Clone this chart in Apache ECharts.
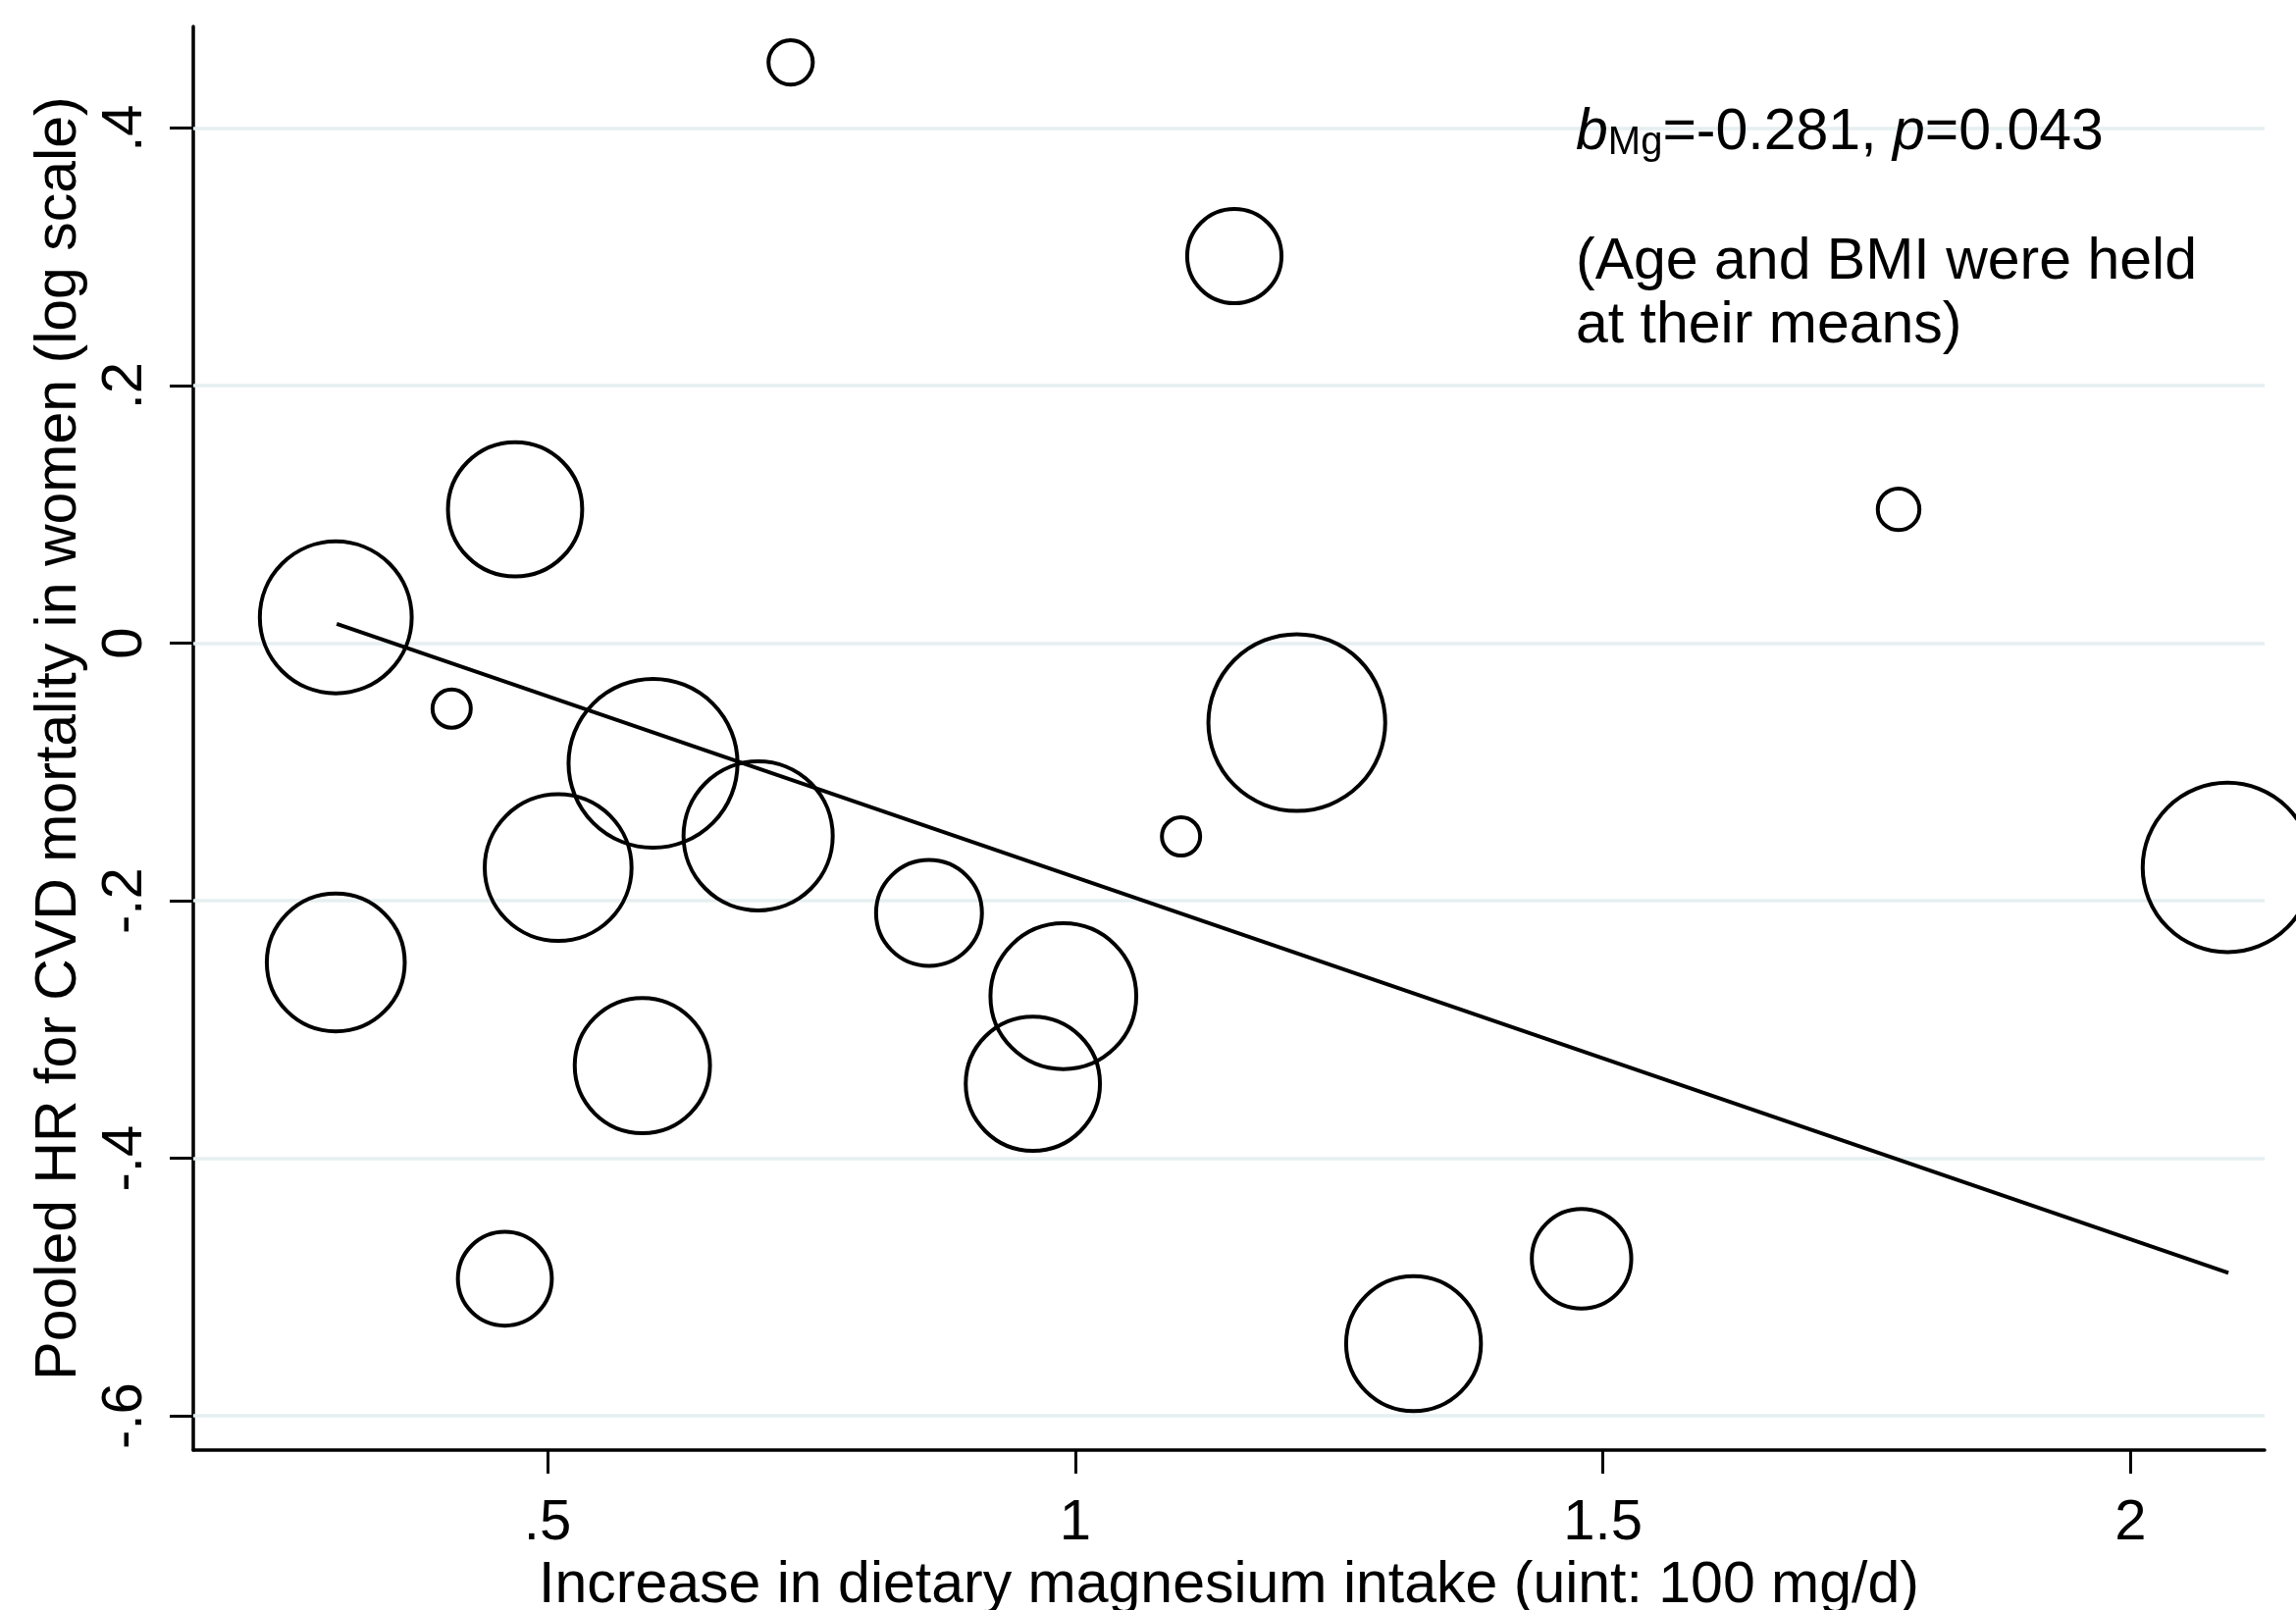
<!DOCTYPE html>
<html>
<head>
<meta charset="utf-8">
<script src="https://cdn.jsdelivr.net/npm/echarts@6/dist/echarts.min.js"></script>
<style>
html,body{margin:0;padding:0;background:#ffffff;}
#chart{width:2340px;height:1641px;}
</style>
</head>
<body>
<div id="chart"></div>
<script>
// ---- data ----
const studyX = [0.7304, 1.1508, 1.7802, 0.4693, 0.2994, 0.4092, 0.6000, 0.6996, 0.5101, 1.2100,
                1.1003, 0.8615, 2.0918, 0.2994, 0.9888, 0.5899, 0.9599, 0.4596, 1.4798, 1.3206];
const studyY = [0.4511, 0.3007, 0.1040, 0.1040, 0.0201, -0.0507, -0.0932, -0.1496, -0.1742, -0.0616,
                -0.1500, -0.2094, -0.1741, -0.2479, -0.2741, -0.3280, -0.3421, -0.4935, -0.4780, -0.5439];
// relative study weight (bubble area)
const studyWeight = [5.1, 23.1, 4.5, 46.8, 59.9, 3.8, 74.1, 57.8, 56.0, 81.2,
                     3.8, 29.1, 74.6, 49.4, 55.2, 47.5, 46.8, 22.9, 25.7, 47.2];
// fitted meta-regression line end points
const fitX = [0.3003, 2.0927];
const fitY = [0.0151, -0.4889];

const xTicks = [0.5, 1, 1.5, 2];
const xTickLabels = ['.5', '1', '1.5', '2'];
const yTicks = [-0.6, -0.4, -0.2, 0, 0.2, 0.4];
const yTickLabels = ['-.6', '-.4', '-.2', '0', '.2', '.4'];

const xTitle = 'Increase in dietary magnesium intake (uint: 100 mg/d)';
const yTitle = 'Pooled HR for CVD mortality in women (log scale)';
const noteLine1 = '{i|b}{s|Mg}{n|=-0.281, }{i|p}{n|=0.043}';
const noteLine2 = '(Age and BMI were held';
const noteLine3 = 'at their means)';

// ---- chart ----
const FONT = '"Liberation Sans", Arial, Helvetica, sans-serif';
const chart = echarts.init(document.getElementById('chart'), null, {renderer: 'canvas'});

function labelFor(ticks, labels) {
  return function (v) {
    for (let i = 0; i < ticks.length; i++) {
      if (Math.abs(ticks[i] - v) < 1e-9) return labels[i];
    }
    return '';
  };
}

const bubbleData = studyX.map((x, i) => [x, studyY[i], studyWeight[i]]);
const fitData = fitX.map((x, i) => [x, fitY[i]]);

const option = {
  animation: false,
  backgroundColor: '#ffffff',
  grid: {left: 197, top: 27, right: 32, bottom: 163, containLabel: false, outerBoundsMode: 'none'},
  xAxis: {
    type: 'value',
    min: 0.1644,
    max: 2.127,
    name: xTitle,
    nameLocation: 'middle',
    nameGap: 103,
    nameTextStyle: {fontFamily: FONT, fontSize: 59, color: '#000'},
    axisLine: {show: true, onZero: false, lineStyle: {color: '#000', width: 3.5}},
    axisTick: {show: true, customValues: xTicks, length: 24, lineStyle: {color: '#000', width: 3}},
    axisLabel: {customValues: xTicks, formatter: labelFor(xTicks, xTickLabels),
                fontFamily: FONT, fontSize: 58, color: '#000', margin: 46},
    splitLine: {show: false}
  },
  yAxis: {
    type: 'value',
    min: -0.6266,
    max: 0.479,
    name: yTitle,
    nameLocation: 'middle',
    nameRotate: 90,
    nameGap: 107,
    nameTextStyle: {fontFamily: FONT, fontSize: 59, color: '#000'},
    axisLine: {show: true, onZero: false, lineStyle: {color: '#000', width: 3.5}},
    axisTick: {show: true, customValues: yTicks, length: 24, lineStyle: {color: '#000', width: 3}},
    axisLabel: {customValues: yTicks, formatter: labelFor(yTicks, yTickLabels), rotate: 90,
                fontFamily: FONT, fontSize: 58, color: '#000', margin: 40},
    splitLine: {show: false}
  },
  series: [
    {
      type: 'scatter',
      data: [],
      z: 1,
      silent: true,
      markLine: {
        silent: true,
        z: 1,
        symbol: 'none',
        label: {show: false},
        lineStyle: {color: '#e6eff1', width: 3.5, type: 'solid'},
        data: yTicks.map(v => ({yAxis: v}))
      }
    },
    {
      type: 'scatter',
      data: bubbleData,
      z: 3,
      clip: false,
      symbol: 'circle',
      symbolSize: v => 20 * Math.sqrt(v[2]),
      itemStyle: {color: 'rgba(0,0,0,0)', borderColor: '#000', borderWidth: 4, opacity: 1},
      emphasis: {disabled: true},
      silent: true
    },
    {
      type: 'line',
      data: fitData,
      z: 4,
      showSymbol: false,
      symbol: 'none',
      lineStyle: {color: '#000', width: 4},
      silent: true
    }
  ],
  graphic: [
    {
      type: 'text', x: 1606, y: 136, z: 10,
      style: {
        text: noteLine1,
        rich: {
          i: {fontFamily: FONT, fontSize: 59, fontStyle: 'italic', fill: '#000'},
          s: {fontFamily: FONT, fontSize: 40, fill: '#000', verticalAlign: 'bottom', lineHeight: 35},
          n: {fontFamily: FONT, fontSize: 59, fill: '#000'}
        },
        fontFamily: FONT, fontSize: 59, fill: '#000',
        align: 'left', verticalAlign: 'middle'
      }
    },
    {
      type: 'text', x: 1606, y: 268, z: 10,
      style: {text: noteLine2, fontFamily: FONT, fontSize: 59, fill: '#000', align: 'left', verticalAlign: 'middle'}
    },
    {
      type: 'text', x: 1606, y: 333, z: 10,
      style: {text: noteLine3, fontFamily: FONT, fontSize: 59, fill: '#000', align: 'left', verticalAlign: 'middle'}
    }
  ]
};
chart.setOption(option);
</script>
</body>
</html>
